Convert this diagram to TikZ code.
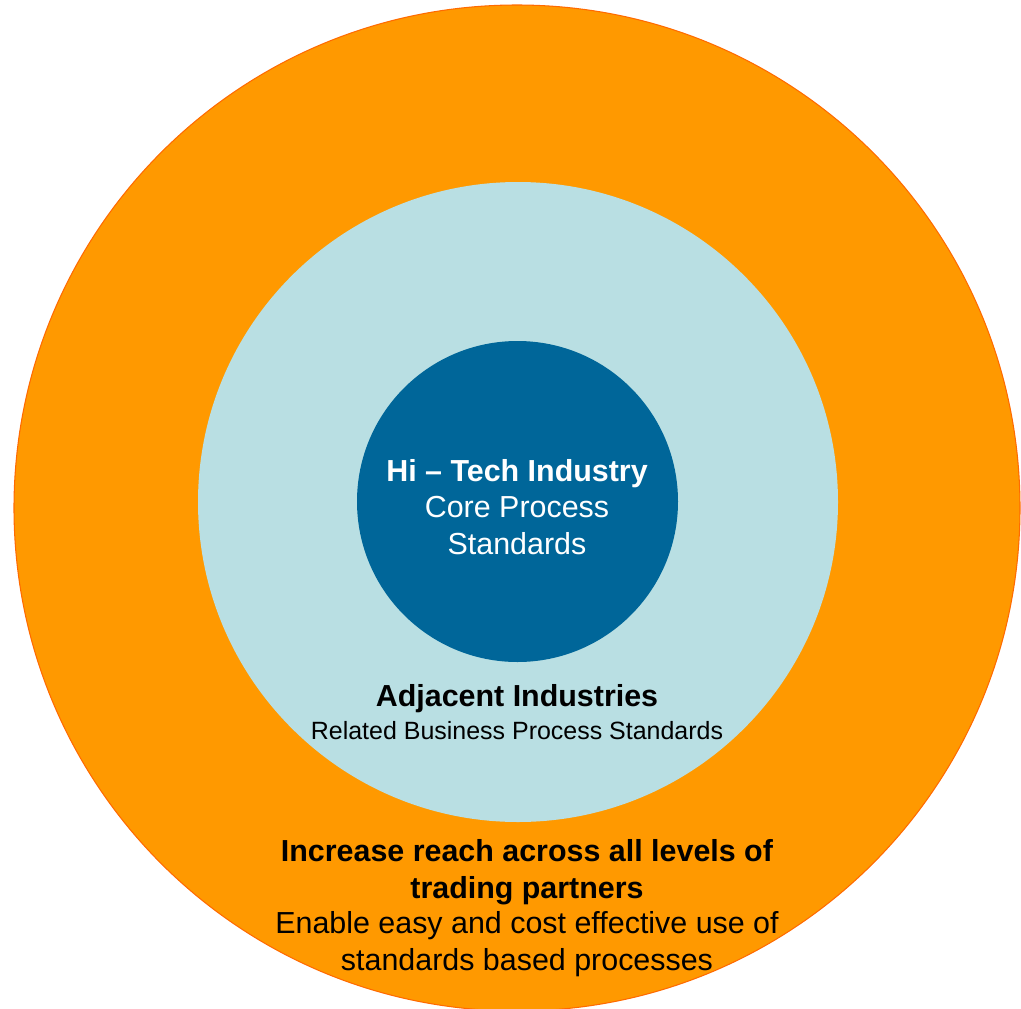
\documentclass[tikz,border=0pt]{standalone}
\usepackage{fontspec}
\setmainfont{Liberation Sans}
\usepackage{tikz}

\definecolor{reachorange}{HTML}{FF9900}
\definecolor{reachedge}{HTML}{FF6A00}
\definecolor{adjblue}{HTML}{B9DFE3}
\definecolor{coreblue}{HTML}{006699}

\tikzset{
  ringtext/.style={align=center, inner sep=0pt, font=\fontsize{8.65}{10.4}\selectfont},
  smalltext/.style={align=center, inner sep=0pt, font=\fontsize{7.1}{9.6}\selectfont}
}

\begin{document}
\begin{tikzpicture}[x=0.01cm, y=-0.01cm]
 \useasboundingbox (0,0) rectangle (1021,1009);
 % three rings, outermost first
 \fill[reachorange, draw=reachedge, line width=0.3pt] (517,508) circle (503);
 \fill[adjblue] (518,502) circle (320);
 \fill[coreblue] (517.5,501.5) circle (160.5);
 % core
 \node[ringtext, text=white] (core) at (517,507)
   {\textbf{Hi -- Tech Industry}\\Core Process\\Standards};
 % adjacent ring
 \node[ringtext] (adj) at (517,699) {\textbf{Adjacent Industries}};
 \node[smalltext] (adjsub) at (517,731) {Related Business Process Standards};
 % outer ring
 \node[ringtext] (reach) at (527,872)
   {\textbf{Increase reach across all levels of}\\\textbf{trading partners}};
 \node[ringtext] (reachsub) at (527,944)
   {Enable easy and cost effective use of\\standards based processes};
\end{tikzpicture}
\end{document}
